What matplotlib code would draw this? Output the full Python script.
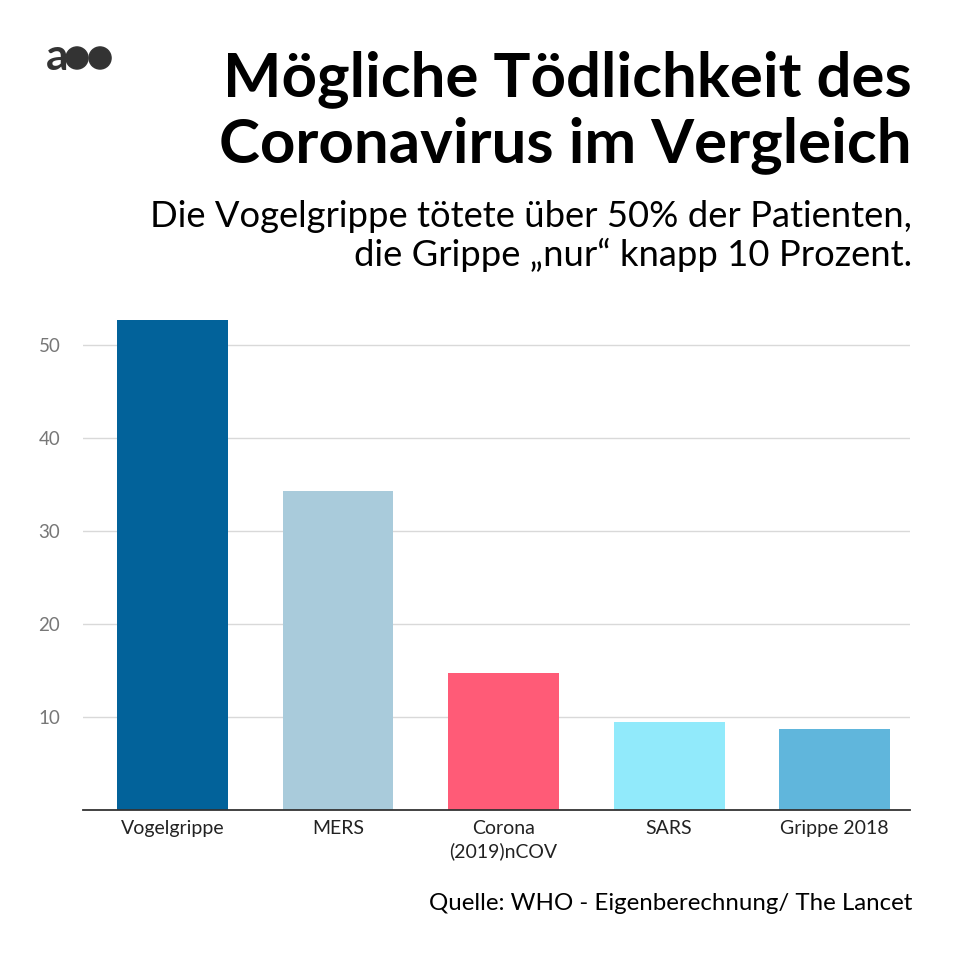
import matplotlib
matplotlib.use("Agg")
import matplotlib.pyplot as plt
from matplotlib.patches import Circle

# Daten aus der Grafik (Sterblichkeit in Prozent, geschätzt)
krankheiten = ["Vogelgrippe", "MERS", "Corona\n(2019)nCOV", "SARS", "Grippe 2018"]
sterblichkeit = [52.7, 34.3, 14.8, 9.5, 8.7]
farben = ["#02629A", "#A9CBDB", "#FF5B77", "#91EAFB", "#60B6DC"]
y_ticks = [10, 20, 30, 40, 50]

titel = "Mögliche Tödlichkeit des\nCoronavirus im Vergleich"
untertitel = "Die Vogelgrippe tötete über 50% der Patienten,\ndie Grippe \u201enur\u201c knapp 10 Prozent."
quelle = "Quelle: WHO - Eigenberechnung/ The Lancet"

plt.rcParams['font.family'] = ['Lato', 'DejaVu Sans']

fig = plt.figure(figsize=(9.6, 9.6), dpi=100)
fig.patch.set_facecolor("white")

# Diagramm
ax = fig.add_axes([0.0865, 0.156, 0.8615, 0.521])
x = range(len(krankheiten))
ax.bar(x, sterblichkeit, width=0.67, color=farben, zorder=3)
ax.set_xlim(-0.54, 4.456)
ax.set_ylim(0, 53.8)
ax.set_yticks(y_ticks)
ax.set_yticklabels([str(t) for t in y_ticks], color="#777777", fontsize=13.5)
ax.set_xticks(list(x))
ax.set_xticklabels(krankheiten, fontsize=14, color="#222222", linespacing=1.35)
ax.tick_params(axis="y", length=0, pad=32)
ax.tick_params(axis="x", length=0, pad=7)
ax.grid(axis="y", color="#d9d9d9", linewidth=1, zorder=0)
for s in ["top", "right", "left"]:
    ax.spines[s].set_visible(False)
ax.spines["bottom"].set_color("#333333")
ax.spines["bottom"].set_linewidth(1.3)
ax.spines["bottom"].set_zorder(4)
for lbl in ax.get_yticklabels():
    lbl.set_horizontalalignment("left")

# Titel und Texte
fig.text(0.95, 0.831, titel, ha="right", va="baseline", fontsize=44.5,
         fontweight="bold", color="black", linespacing=1.18)
fig.text(0.95, 0.723, untertitel, ha="right", va="baseline", fontsize=26.2,
         color="black", linespacing=1.18)
fig.text(0.95, 0.052, quelle, ha="right", va="baseline", fontsize=17.3, color="black")

# Logo
fig.text(0.048, 0.927, "a", ha="left", va="baseline", fontsize=32,
         fontweight="bold", color="#333333")
fig.patches.append(Circle((0.0802, 0.9396), 0.0115, transform=fig.transFigure, color="#333333"))
fig.patches.append(Circle((0.1042, 0.9396), 0.0115, transform=fig.transFigure, color="#333333"))

fig.savefig("out.png", dpi=100)
